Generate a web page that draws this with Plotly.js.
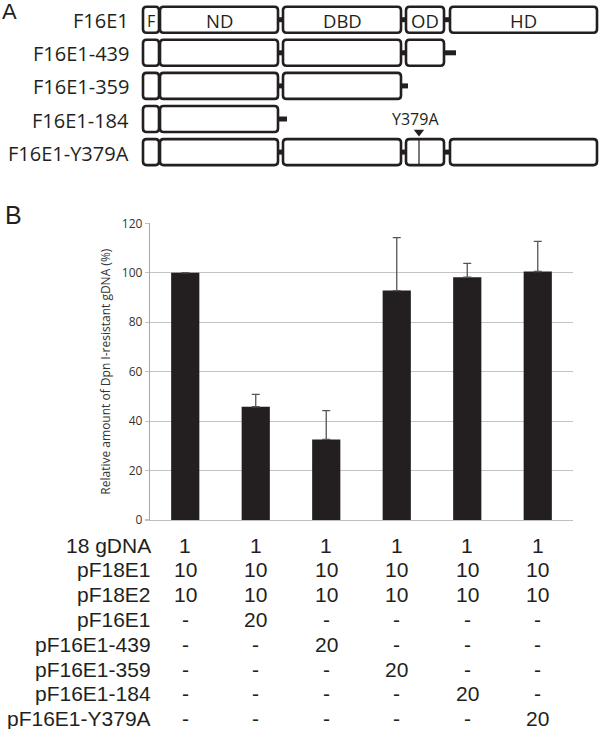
<!DOCTYPE html>
<html>
<head>
<meta charset="utf-8">
<script src="https://cdn.plot.ly/plotly-3.0.1.min.js"></script>
<style>html,body{margin:0;padding:0;background:#fff;}#chart{width:600px;height:729px;}</style>
</head>
<body>
<div id="chart"></div>
<script>
// ---------- Panel A: construct diagrams ----------
const constructs = ['F16E1', 'F16E1-439', 'F16E1-359', 'F16E1-184', 'F16E1-Y379A'];
const domainNames = ['F', 'ND', 'DBD', 'OD', 'HD'];
const domainStart = [143, 160, 283, 406, 450];
const domainEnd = [159, 278, 401, 444, 597];
const domainsKept = [5, 4, 3, 2, 5];
const stubEnd = [null, 456, 408, 287, null];
const mutationLabel = 'Y379A';
const mutationPos = [419];
const mutationRow = 4;

// ---------- Panel B: bar chart ----------
const conditions = [0, 1, 2, 3, 4, 5];
const relAmount = [100, 45.8, 32.6, 92.8, 98.2, 100.5];
const errUp = [0, 5.0, 11.6, 21.4, 5.6, 12.2];

// ---------- Panel B: table ----------
const tableRows = ['18 gDNA', 'pF18E1', 'pF18E2', 'pF16E1', 'pF16E1-439', 'pF16E1-359', 'pF16E1-184', 'pF16E1-Y379A'];
const tableValues = [
  ['1', '1', '1', '1', '1', '1'],
  ['10', '10', '10', '10', '10', '10'],
  ['10', '10', '10', '10', '10', '10'],
  ['-', '20', '-', '-', '-', '-'],
  ['-', '-', '20', '-', '-', '-'],
  ['-', '-', '-', '20', '-', '-'],
  ['-', '-', '-', '-', '20', '-'],
  ['-', '-', '-', '-', '-', '20']
];

const W = 600, H = 729;
const ink = '#231f20';
const rowY0 = 19.7, rowStep = 33.1, boxHalf = 13;
const tableY0 = 545, tableStep = 24.8;

function rrect(x0, y0, x1, y1, r) {
  return `M${x0 + r},${y0} L${x1 - r},${y0} Q${x1},${y0} ${x1},${y0 + r} L${x1},${y1 - r} Q${x1},${y1} ${x1 - r},${y1} L${x0 + r},${y1} Q${x0},${y1} ${x0},${y1 - r} L${x0},${y0 + r} Q${x0},${y0} ${x0 + r},${y0} Z`;
}

const shapes = [];
const annotations = [];

constructs.forEach((name, r) => {
  const cy = rowY0 + r * rowStep;
  const k = domainsKept[r];
  for (let i = 1; i < k - 1; i++) {
    shapes.push({type: 'rect', xref: 'x2', yref: 'y2', x0: domainEnd[i], x1: domainStart[i + 1],
      y0: cy - 2.5, y1: cy + 2.5, fillcolor: ink, line: {width: 0}});
  }
  if (stubEnd[r] !== null) {
    shapes.push({type: 'rect', xref: 'x2', yref: 'y2', x0: domainEnd[k - 1], x1: stubEnd[r],
      y0: cy - 2.5, y1: cy + 2.5, fillcolor: ink, line: {width: 0}});
  }
  for (let i = 0; i < k; i++) {
    shapes.push({type: 'path', xref: 'x2', yref: 'y2',
      path: rrect(domainStart[i], cy - boxHalf, domainEnd[i], cy + boxHalf, 3.5),
      fillcolor: '#ffffff', line: {color: ink, width: 2.6}});
    if (r === 0) {
      annotations.push({xref: 'x2', yref: 'y2', x: (domainStart[i] + domainEnd[i]) / 2, y: cy + 1,
        text: domainNames[i], showarrow: false, xanchor: 'center', yanchor: 'middle',
        font: {family: 'Open Sans', size: i === 0 ? 16 : 18.5, color: ink}});
    }
  }
  annotations.push({xref: 'x2', yref: 'y2', x: 131, y: cy + 1, text: name, showarrow: false,
    xanchor: 'right', yanchor: 'middle', font: {family: 'Open Sans', size: 20, color: ink}});
});

const mutY = rowY0 + mutationRow * rowStep;
shapes.push({type: 'line', xref: 'x2', yref: 'y2', x0: mutationPos[0], x1: mutationPos[0],
  y0: mutY - boxHalf, y1: mutY + boxHalf, line: {color: ink, width: 1.2}});
annotations.push({xref: 'x2', yref: 'y2', x: mutationPos[0] - 4, y: 118.5, text: mutationLabel, showarrow: false,
  xanchor: 'center', yanchor: 'middle', font: {family: 'Open Sans', size: 16, color: ink}});

annotations.push({xref: 'x2', yref: 'y2', x: 0, y: 11, text: 'A', showarrow: false, xanchor: 'left', yanchor: 'middle',
  font: {family: 'Liberation Sans', size: 22, color: ink}});
annotations.push({xref: 'x2', yref: 'y2', x: 3, y: 215, text: 'B', showarrow: false, xanchor: 'left', yanchor: 'middle',
  font: {family: 'Liberation Sans', size: 25, color: ink}});

tableRows.forEach((lab, r) => {
  const y = tableY0 + r * tableStep;
  annotations.push({xref: 'x2', yref: 'y2', x: 153, y: y, text: lab, showarrow: false, xanchor: 'right', yanchor: 'middle',
    font: {family: 'Liberation Sans', size: 21, color: ink}});
  tableValues[r].forEach((v, c) => {
    annotations.push({xref: 'x', yref: 'y2', x: conditions[c], y: y, text: v, showarrow: false,
      xanchor: 'center', yanchor: 'middle', font: {family: 'Liberation Sans', size: 21, color: ink}});
  });
});

const traces = [
  {
    type: 'bar', x: conditions, y: relAmount, width: 0.4,
    marker: {color: ink, line: {width: 0}},
    error_y: {type: 'data', symmetric: false, array: errUp, arrayminus: errUp.map(() => 0),
      color: '#555555', thickness: 1.3, width: 4, visible: true},
    hoverinfo: 'y', showlegend: false
  },
  {
    type: 'scatter', mode: 'markers', xaxis: 'x2', yaxis: 'y2',
    x: mutationPos, y: [mutY - boxHalf - 7],
    marker: {symbol: 'triangle-down', size: 9, color: ink},
    hoverinfo: 'skip', showlegend: false
  }
];

const layout = {
  width: W, height: H,
  margin: {l: 0, r: 0, t: 0, b: 0},
  paper_bgcolor: '#ffffff', plot_bgcolor: 'rgba(0,0,0,0)',
  showlegend: false,
  xaxis: {
    domain: [150 / W, 573 / W], range: [-0.5, 5.5], anchor: 'y',
    showticklabels: false, ticks: '', showgrid: false, zeroline: false,
    showline: true, linecolor: '#bfbfbf', linewidth: 1.2, fixedrange: true
  },
  yaxis: {
    domain: [(H - 520) / H, (H - 223.3) / H], range: [0, 120], anchor: 'x',
    dtick: 20, tick0: 0, gridcolor: '#c4c4c4', gridwidth: 1.2, zeroline: false,
    showline: true, linecolor: '#a6a6a6', linewidth: 1.2,
    ticks: 'outside', ticklen: 4, tickcolor: '#c4c4c4', tickwidth: 1.2,
    tickfont: {family: 'Open Sans', size: 12, color: '#333333'},
    title: {text: 'Relative amount of Dpn I-resistant gDNA (%)', standoff: 8,
      font: {family: 'Open Sans', size: 12, color: '#333333'}},
    fixedrange: true
  },
  xaxis2: {domain: [0, 1], range: [0, W], anchor: 'y2', visible: false, fixedrange: true},
  yaxis2: {domain: [0, 1], range: [H, 0], anchor: 'x2', visible: false, fixedrange: true},
  shapes: shapes,
  annotations: annotations
};

Plotly.newPlot('chart', traces, layout, {displayModeBar: false, staticPlot: true});
</script>
</body>
</html>
